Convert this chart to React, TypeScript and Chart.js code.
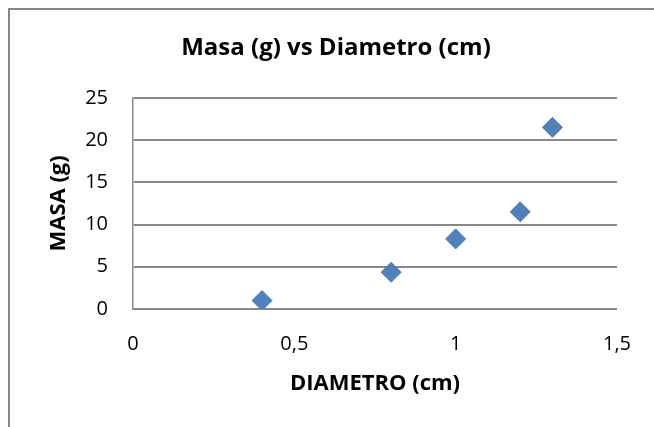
import React, { useEffect, useRef } from "react";
import { Chart, registerables } from "chart.js";

Chart.register(...registerables);

const diametros = [0.4, 0.8, 1.0, 1.2, 1.3];
const masas = [1, 4.35, 8.3, 11.5, 21.5];
const chartTitle = "Masa (g) vs Diametro (cm)";
const xTitle = "DIAMETRO (cm)";
const yTitle = "MASA (g)";

const FONT = "'Open Sans', Calibri, sans-serif";
const GRID = "#898989";

export default function App() {
  const ref = useRef<HTMLCanvasElement | null>(null);

  useEffect(() => {
    if (!ref.current) return;
    const chart = new Chart(ref.current, {
      type: "scatter",
      data: {
        datasets: [
          {
            label: "Masa",
            data: diametros.map((d, i) => ({ x: d, y: masas[i] })),
            pointStyle: "rectRot",
            pointRadius: 10,
            pointHoverRadius: 10,
            backgroundColor: "#4F81BD",
            borderColor: "#4A7EBB",
            borderWidth: 1,
          },
        ],
      },
      options: {
        responsive: false,
        animation: false,
        layout: { padding: { left: 8, right: 0, top: 0, bottom: 0 } },
        plugins: {
          legend: { display: false },
          tooltip: { enabled: false },
          title: {
            display: true,
            text: chartTitle,
            color: "#000",
            font: { family: FONT, size: 24, weight: "bold" },
            padding: { top: 24, bottom: 35 },
          },
        },
        scales: {
          x: {
            type: "linear",
            min: 0,
            max: 1.5,
            grid: { display: false, drawTicks: false },
            border: { display: true, color: GRID, width: 1.5 },
            ticks: {
              stepSize: 0.5,
              padding: 23,
              color: "#000",
              font: { family: FONT, size: 20 },
              callback: (v: any) => String(v).replace(".", ","),
            },
            title: {
              display: true,
              text: xTitle,
              color: "#000",
              font: { family: FONT, size: 22, weight: "bold" },
              padding: { top: 0, bottom: 22 },
            },
            afterFit: (s: any) => {
              s.height = 110;
            },
          },
          y: {
            type: "linear",
            position: "left",
            min: 0,
            max: 25,
            grid: { color: GRID, lineWidth: 2, drawTicks: false },
            border: { display: true, color: GRID, width: 1.5 },
            ticks: {
              stepSize: 5,
              padding: 25,
              color: "#000",
              font: { family: FONT, size: 20 },
            },
            title: {
              display: true,
              text: yTitle,
              color: "#000",
              font: { family: FONT, size: 22, weight: "bold" },
              padding: { top: 28, bottom: 0 },
            },
            afterFit: (s: any) => {
              s.width = 115;
            },
          },
          y2: {
            type: "linear",
            position: "right",
            display: true,
            grid: { display: false, drawTicks: false },
            border: { display: false },
            ticks: { display: false },
            afterFit: (s: any) => {
              s.width = 36;
            },
          },
        },
      },
    });
    return () => chart.destroy();
  }, []);

  return (
    <div
      style={{
        position: "fixed",
        left: 8,
        top: 8,
        width: 644,
        height: 419,
        borderLeft: "2px solid #878787",
        borderTop: "2px solid #878787",
        background: "#fff",
      }}
    >
      <canvas ref={ref} width={644} height={409} style={{ display: "block" }} />
    </div>
  );
}
